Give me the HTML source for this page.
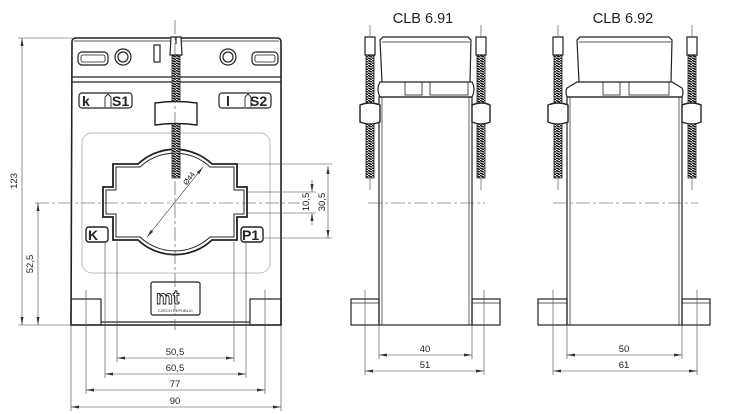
<!DOCTYPE html>
<html><head><style>
html,body{margin:0;padding:0;background:#fff;}
svg{display:block;}
text{font-family:"Liberation Sans",Arial,sans-serif;fill:#222;}
</style></head><body>
<svg width="730" height="414" viewBox="0 0 730 414" xmlns="http://www.w3.org/2000/svg">
<defs>
<pattern id="thr" width="4" height="2.5" patternUnits="userSpaceOnUse">
<rect width="4" height="2.5" fill="#fff"/><line x1="0" y1="0.3" x2="4" y2="2.2" stroke="#111" stroke-width="1.5"/>
</pattern>
<marker id="a" markerWidth="8" markerHeight="6" refX="8" refY="3" orient="auto-start-reverse" markerUnits="userSpaceOnUse">
<path d="M0,1.5 L8,3 L0,4.5z" fill="#333"/></marker>
</defs>
<g fill="none" stroke="#222" stroke-width="1.2">
<path d="M72,42 Q72,38 76,38 L277,38 Q281,38 281,42 L281,325 L71,325 Z" stroke-width="1.6"/>
<line x1="72" y1="77" x2="281" y2="77"/><line x1="72" y1="82" x2="281" y2="82"/>
<line x1="74" y1="41" x2="279" y2="41" stroke-width="0.8"/>
<rect x="78" y="52" width="30" height="13" rx="4"/><rect x="81" y="55" width="24" height="7" rx="2" stroke-width="0.8"/>
<circle cx="123" cy="57" r="8"/><circle cx="123" cy="57" r="5"/>
<circle cx="228" cy="57" r="8"/><circle cx="228" cy="57" r="5"/>
<rect x="252" y="52" width="26" height="13" rx="4"/><rect x="255" y="55" width="20" height="7" rx="2" stroke-width="0.8"/>
<rect x="154" y="45" width="6" height="17"/>
<rect x="79" y="93" width="53" height="15" rx="3"/><rect x="219" y="93" width="52" height="15" rx="3"/>
<path d="M105,107 L105,97 L108,94 L111,97 L111,107" stroke-width="0.9"/>
<path d="M245,107 L245,97 L248,94 L251,97 L251,107" stroke-width="0.9"/>
<rect x="82" y="133" width="188" height="140" rx="10" stroke="#bbb" stroke-width="1"/>
<path d="M113,164 L138,164 A54,54 0 0 1 212,164 L237,164 L237,187 L247,187 L247,217 L237,217 L237,240 L212,240 A54,54 0 0 1 138,240 L113,240 L113,217 L103,217 L103,187 L113,187 Z" stroke-width="1.8"/>
<path d="M116,167 L140,167 A51,51 0 0 1 210,167 L234,167 L234,190 L244,190 L244,214 L234,214 L234,237 L210,237 A51,51 0 0 1 140,237 L116,237 L116,214 L106,214 L106,190 L116,190 Z" stroke-width="1"/>
<rect x="172" y="55" width="8" height="123" fill="url(#thr)" stroke-width="0.8"/>
<path d="M171,37 L181,37 L182,55 L170,55 Z" fill="#fff"/><line x1="176" y1="37" x2="176" y2="44"/>
<path d="M155,103 Q176,100 197,103 L197,125 Q176,122 155,125 Z" fill="#fff" stroke-width="1.4"/>
<rect x="86" y="227" width="22" height="15" rx="3" stroke-width="1.4"/>
<rect x="241" y="227" width="22" height="15" rx="3" stroke-width="1.4"/>
<rect x="151" y="282" width="49" height="33" rx="2"/>
<rect x="71" y="299" width="30" height="26"/><rect x="250" y="299" width="31" height="26"/>
<line x1="101" y1="322" x2="250" y2="322"/>
<line x1="147" y1="237" x2="203" y2="167" stroke-width="0.6" marker-start="url(#a)" marker-end="url(#a)"/>
</g>
<g stroke="#444" stroke-width="0.6" fill="none">
<line x1="35" y1="203" x2="300" y2="203" stroke-dasharray="14,3,3,3"/>
<line x1="175" y1="20" x2="175" y2="330" stroke-dasharray="14,3,3,3"/>
<line x1="18" y1="38" x2="72" y2="38"/><line x1="18" y1="325" x2="72" y2="325"/>
<line x1="22" y1="38" x2="22" y2="325" marker-start="url(#a)" marker-end="url(#a)"/>
<line x1="38" y1="203" x2="38" y2="325" marker-start="url(#a)" marker-end="url(#a)"/>
<line x1="237" y1="164" x2="332" y2="164"/><line x1="247" y1="192" x2="316" y2="192"/>
<line x1="247" y1="213" x2="316" y2="213"/><line x1="264" y1="238" x2="332" y2="238"/>
<line x1="312" y1="180" x2="312" y2="192" marker-end="url(#a)"/>
<line x1="312" y1="225" x2="312" y2="213" marker-end="url(#a)"/>
<line x1="328" y1="166" x2="328" y2="238" marker-start="url(#a)" marker-end="url(#a)"/>
<line x1="117" y1="242" x2="117" y2="362"/><line x1="234" y1="242" x2="234" y2="362"/>
<line x1="105" y1="242" x2="105" y2="378"/><line x1="246" y1="242" x2="246" y2="378"/>
<line x1="86" y1="290" x2="86" y2="394"/><line x1="265" y1="290" x2="265" y2="394"/>
<line x1="71" y1="325" x2="71" y2="411"/><line x1="281" y1="325" x2="281" y2="411"/>
<line x1="117" y1="358" x2="234" y2="358" marker-start="url(#a)" marker-end="url(#a)"/>
<line x1="105" y1="374" x2="246" y2="374" marker-start="url(#a)" marker-end="url(#a)"/>
<line x1="86" y1="390" x2="265" y2="390" marker-start="url(#a)" marker-end="url(#a)"/>
<line x1="71" y1="407" x2="281" y2="407" marker-start="url(#a)" marker-end="url(#a)"/>
</g>
<g font-size="9.5" text-anchor="middle">
<text x="175" y="355">50,5</text><text x="175" y="371">60,5</text>
<text x="175" y="387">77</text><text x="175" y="404">90</text>
<text transform="translate(17,181) rotate(-90)">123</text>
<text transform="translate(33,264) rotate(-90)">52,5</text>
<text transform="translate(309,202) rotate(-90)">10,5</text>
<text transform="translate(325,202) rotate(-90)">30,5</text>
<text transform="translate(191,180) rotate(-52)" font-size="7.5">Ø44</text>
</g>
<g font-weight="bold" font-size="14">
<text x="82" y="106">k</text><text x="112" y="106">S1</text>
<text x="226" y="106">l</text><text x="250" y="106">S2</text>
<text x="88" y="240">K</text><text x="242" y="240">P1</text>
</g>
<text x="156" y="304" font-size="19" font-weight="bold" style="fill:none" stroke="#222" stroke-width="0.9">mt</text>
<text x="175.5" y="312" font-size="4" text-anchor="middle">CZECH REPUBLIC</text>

<text x="423" y="23" font-size="14.5" text-anchor="middle">CLB 6.91</text>
<text x="623" y="23" font-size="14.5" text-anchor="middle">CLB 6.92</text>
<g fill="none" stroke="#222" stroke-width="1.2">
<path d="M382,82 L380,40 L383,37 L468,37 L471,40 L470,82"/>
<line x1="382" y1="42" x2="470" y2="42" stroke-width="0.8"/>
<path d="M380,82 L472,82 Q476,89 472,97 L380,97 Q376,89 380,82 Z" fill="#fff"/>
<rect x="379" y="97" width="93" height="228"/><line x1="382" y1="97" x2="382" y2="325" stroke-width="0.7"/><line x1="469" y1="97" x2="469" y2="325" stroke-width="0.7"/>
<rect x="351" y="299" width="28" height="26"/><rect x="472" y="299" width="28" height="26"/>
<line x1="351" y1="303" x2="379" y2="303" stroke-width="0.7"/><line x1="472" y1="303" x2="500" y2="303" stroke-width="0.7"/>
<rect x="366" y="55" width="8" height="123" fill="url(#thr)" stroke-width="0.8"/>
<path d="M365,37 L375,37 L375,55 L365,55 Z" fill="#fff"/>
<path d="M360,105 Q370,101 380,105 L380,122 Q370,126 360,122 Z" fill="#fff" stroke-width="1.4"/>
<rect x="477" y="55" width="8" height="123" fill="url(#thr)" stroke-width="0.8"/>
<path d="M476,37 L486,37 L486,55 L476,55 Z" fill="#fff"/>
<path d="M472,105 Q482,101 490,105 L490,122 Q482,126 472,122 Z" fill="#fff" stroke-width="1.4"/>
<rect x="405" y="82" width="17" height="13" stroke-width="0.8"/><rect x="430" y="82" width="38" height="13" stroke-width="0.8"/>
<path d="M579,82 L577,40 L580,37 L669,37 L672,40 L671,82"/>
<line x1="579" y1="42" x2="671" y2="42" stroke-width="0.8"/>
<path d="M577,82 L672,82 L682,88 Q684,92 682,97 L567,97 Q565,92 567,88 Z" fill="#fff"/>
<rect x="567" y="97" width="115" height="228"/><line x1="570" y1="97" x2="570" y2="325" stroke-width="0.7"/><line x1="679" y1="97" x2="679" y2="325" stroke-width="0.7"/>
<rect x="538" y="299" width="29" height="26"/><rect x="682" y="299" width="28" height="26"/>
<line x1="538" y1="303" x2="567" y2="303" stroke-width="0.7"/><line x1="682" y1="303" x2="710" y2="303" stroke-width="0.7"/>
<rect x="554" y="55" width="8" height="123" fill="url(#thr)" stroke-width="0.8"/>
<path d="M553,37 L563,37 L563,55 L553,55 Z" fill="#fff"/>
<path d="M548,105 Q558,101 568,105 L568,122 Q558,126 548,122 Z" fill="#fff" stroke-width="1.4"/>
<rect x="688" y="55" width="8" height="123" fill="url(#thr)" stroke-width="0.8"/>
<path d="M687,37 L697,37 L697,55 L687,55 Z" fill="#fff"/>
<path d="M682,105 Q692,101 701,105 L701,122 Q692,126 682,122 Z" fill="#fff" stroke-width="1.4"/>
<rect x="603" y="82" width="17" height="13" stroke-width="0.8"/><rect x="629" y="82" width="40" height="13" stroke-width="0.8"/>
</g>
<g stroke="#444" stroke-width="0.6" fill="none">
<line x1="368" y1="203" x2="485" y2="203" stroke-dasharray="14,3,3,3"/>
<line x1="553" y1="203" x2="698" y2="203" stroke-dasharray="14,3,3,3"/>
<line x1="379" y1="325" x2="379" y2="359"/><line x1="472" y1="325" x2="472" y2="359"/>
<line x1="365" y1="290" x2="365" y2="375"/><line x1="484" y1="290" x2="484" y2="375"/>
<line x1="379" y1="355" x2="472" y2="355" marker-start="url(#a)" marker-end="url(#a)"/>
<line x1="365" y1="371" x2="484" y2="371" marker-start="url(#a)" marker-end="url(#a)"/>
<line x1="567" y1="325" x2="567" y2="359"/><line x1="682" y1="325" x2="682" y2="359"/>
<line x1="553" y1="290" x2="553" y2="375"/><line x1="697" y1="290" x2="697" y2="375"/>
<line x1="567" y1="355" x2="682" y2="355" marker-start="url(#a)" marker-end="url(#a)"/>
<line x1="553" y1="371" x2="697" y2="371" marker-start="url(#a)" marker-end="url(#a)"/>
<line x1="370" y1="25" x2="370" y2="37"/><line x1="481" y1="25" x2="481" y2="37"/>
<line x1="558" y1="25" x2="558" y2="37"/><line x1="692" y1="25" x2="692" y2="37"/>
<line x1="370" y1="178" x2="370" y2="190"/><line x1="481" y1="178" x2="481" y2="190"/>
<line x1="558" y1="178" x2="558" y2="190"/><line x1="692" y1="178" x2="692" y2="190"/>
</g>
<g font-size="9.5" text-anchor="middle">
<text x="425" y="352">40</text><text x="425" y="368">51</text>
<text x="624" y="352">50</text><text x="624" y="368">61</text>
</g>
</svg>
</body></html>
